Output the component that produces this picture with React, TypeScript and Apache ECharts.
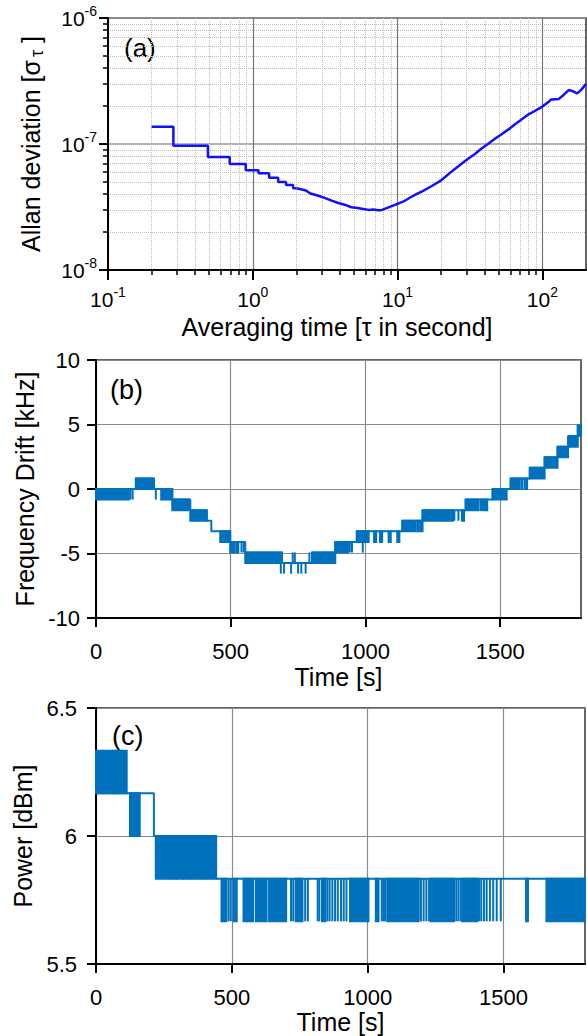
import React, { useEffect, useRef } from 'react';
import * as echarts from 'echarts';

const FONT = "'Liberation Sans', Arial, Helvetica, sans-serif";

// ---------- Panel (a): Allan deviation ----------
const allanStepTau = [0.2, 0.4, 0.6, 0.8, 1.0, 1.2, 1.4, 1.6, 1.8, 2.0];
const allanStepDev = [1.37e-7, 9.7e-8, 7.9e-8, 6.93e-8, 6.2e-8, 5.85e-8, 5.4e-8, 5.0e-8, 4.73e-8, 4.45e-8];
const allanTau = [2.0, 2.3, 2.5, 2.8, 3.1, 3.5, 3.9, 4.3, 4.8, 5.3, 5.8, 6.3, 6.8, 7.3, 7.8, 8.3, 9, 10, 11, 12.3, 13.5, 15, 17, 20, 23, 26, 30, 34, 38, 42, 47, 52, 58, 64, 71, 79, 88, 100, 110, 115, 130, 140, 152, 163, 174, 186, 200];
const allanDev = [4.45e-8, 4.3e-8, 4.05e-8, 3.9e-8, 3.75e-8, 3.55e-8, 3.4e-8, 3.3e-8, 3.15e-8, 3.1e-8, 3.05e-8, 3.0e-8, 3.02e-8, 2.98e-8, 3.0e-8, 3.08e-8, 3.2e-8, 3.35e-8, 3.5e-8, 3.78e-8, 4.0e-8, 4.25e-8, 4.6e-8, 5.15e-8, 5.9e-8, 6.6e-8, 7.5e-8, 8.3e-8, 9.2e-8, 1.0e-7, 1.1e-7, 1.19e-7, 1.3e-7, 1.42e-7, 1.55e-7, 1.7e-7, 1.82e-7, 1.98e-7, 2.15e-7, 2.26e-7, 2.28e-7, 2.45e-7, 2.68e-7, 2.62e-7, 2.52e-7, 2.7e-7, 3.0e-7];
const allanMajorX = [0.1, 1, 10, 100];
const allanMinorX = [0.2, 0.3, 0.4, 0.5, 0.6, 0.7, 0.8, 0.9, 2, 3, 4, 5, 6, 7, 8, 9, 20, 30, 40, 50, 60, 70, 80, 90];
const allanMajorY = [1e-8, 1e-7, 1e-6];
const allanMinorY = [2e-8, 3e-8, 4e-8, 5e-8, 6e-8, 7e-8, 8e-8, 9e-8, 2e-7, 3e-7, 4e-7, 5e-7, 6e-7, 7e-7, 8e-7, 9e-7];

// ---------- Panel (b): Frequency drift [kHz] ----------
const timeTicks = [0, 500, 1000, 1500];
// step path [time s, level kHz]
const driftPath = [
  [0, 0], [148, 0.82], [215, 0], [283, -0.82], [350, -1.64], [411, -2.46], [428, -3.28],
  [498, -4.1], [554, -4.92], [690, -5.74], [802, -4.92], [888, -4.1], [968, -3.28],
  [1137, -2.46], [1212, -1.64], [1372, -0.82], [1472, 0], [1539, 0.82], [1610, 1.64],
  [1665, 2.46], [1713, 3.28], [1752, 4.1], [1788, 4.92], [1800, 4.92],
];
// flicker blocks [t start, t end, low level, high level]
const driftBlocks = [
  [0, 122, -0.82, 0], [148, 215, 0, 0.82], [242, 283, -0.82, 0],
  [283, 345, -1.64, -0.82], [350, 372, -2.46, -1.64], [378, 411, -2.46, -1.64],
  [461, 498, -4.1, -3.28], [498, 512, -4.92, -4.1], [520, 528, -4.92, -4.1],
  [554, 690, -5.74, -4.92], [802, 855, -5.74, -4.92], [861, 866, -5.74, -4.92], [872, 888, -5.74, -4.92],
  [888, 935, -4.92, -4.1], [968, 1012, -4.1, -3.28],
  [1032, 1040, -4.1, -3.28], [1054, 1062, -4.1, -3.28], [1086, 1094, -4.1, -3.28], [1118, 1126, -4.1, -3.28],
  [1137, 1185, -3.28, -2.46], [1192, 1198, -3.28, -2.46], [1204, 1212, -3.28, -2.46],
  [1212, 1300, -2.46, -1.64], [1305, 1312, -2.46, -1.64], [1318, 1325, -2.46, -1.64], [1358, 1366, -2.46, -1.64],
  [1372, 1420, -1.64, -0.82], [1428, 1435, -1.64, -0.82], [1440, 1452, -1.64, -0.82],
  [1472, 1524, -0.82, 0], [1539, 1560, 0, 0.82], [1565, 1570, 0, 0.82], [1578, 1583, 0, 0.82], [1592, 1600, 0, 0.82],
  [1610, 1665, 0.82, 1.64], [1665, 1713, 1.64, 2.46], [1713, 1752, 2.46, 3.28],
  [1755, 1788, 3.28, 4.1], [1788, 1800, 4.1, 4.92],
];
// single spikes [t, from, to]
const driftSpikes = [
  [128, 0, -0.82], [136, 0, -0.82], [222, 0, -0.82],
  [540, -4.1, -4.92], [548, -4.1, -4.92],
  [686, -5.74, -6.56], [698, -5.74, -6.56], [724, -5.74, -6.56], [750, -5.74, -6.56],
  [762, -5.74, -6.56], [778, -5.74, -6.56], [730, -5.74, -4.92], [738, -5.74, -4.92], [792, -5.74, -4.92],
  [942, -4.1, -4.92], [950, -4.1, -4.92], [990, -4.1, -4.92],
  [1330, -1.64, -2.46], [1345, -1.64, -2.46],
];

// ---------- Panel (c): Power [dBm] ----------
const powerPath = [[0, 6.1667], [213, 6.0], [442, 5.8333], [1800, 5.8333]];
const powerBlocks = [
  [0, 61, 6.1667, 6.3333], [65, 71, 6.1667, 6.3333], [76, 113, 6.1667, 6.3333],
  [125, 137, 6.0, 6.1667], [141, 145, 6.0, 6.1667], [150, 161, 6.0, 6.1667],
  [220, 270, 5.8333, 6.0], [274, 293, 5.8333, 6.0], [297, 320, 5.8333, 6.0], [324, 348, 5.8333, 6.0],
  [352, 381, 5.8333, 6.0], [385, 394, 5.8333, 6.0], [398, 442, 5.8333, 6.0],
  [462, 480, 5.6667, 5.8333], [506, 518, 5.6667, 5.8333], [543, 578, 5.6667, 5.8333],
  [588, 628, 5.6667, 5.8333], [637, 700, 5.6667, 5.8333], [735, 760, 5.6667, 5.8333],
  [832, 845, 5.6667, 5.8333], [935, 1003, 5.6667, 5.8333], [1030, 1040, 5.6667, 5.8333],
  [1072, 1188, 5.6667, 5.8333], [1232, 1318, 5.6667, 5.8333], [1348, 1403, 5.6667, 5.8333],
  [1583, 1590, 5.6667, 5.8333], [1658, 1800, 5.6667, 5.8333],
];
const powerSpikes = [
  [488, 5.8333, 5.6667], [496, 5.8333, 5.6667], [718, 5.8333, 5.6667], [726, 5.8333, 5.6667],
  [770, 5.8333, 5.6667], [780, 5.8333, 5.6667], [816, 5.8333, 5.6667], [822, 5.8333, 5.6667],
  [852, 5.8333, 5.6667], [860, 5.8333, 5.6667], [870, 5.8333, 5.6667], [880, 5.8333, 5.6667],
  [890, 5.8333, 5.6667], [902, 5.8333, 5.6667], [912, 5.8333, 5.6667], [922, 5.8333, 5.6667],
  [1052, 5.8333, 5.6667], [1058, 5.8333, 5.6667], [1064, 5.8333, 5.6667], [1075, 5.8333, 5.6667],
  [1196, 5.8333, 5.6667], [1206, 5.8333, 5.6667], [1216, 5.8333, 5.6667], [1226, 5.8333, 5.6667],
  [1326, 5.8333, 5.6667], [1334, 5.8333, 5.6667], [1342, 5.8333, 5.6667],
  [1410, 5.8333, 5.6667], [1418, 5.8333, 5.6667], [1428, 5.8333, 5.6667], [1438, 5.8333, 5.6667],
  [1450, 5.8333, 5.6667], [1462, 5.8333, 5.6667], [1475, 5.8333, 5.6667], [1490, 5.8333, 5.6667],
  [155, 6.1667, 6.0],
];

const BLUE_A = '#1010ff';
const BLUE = '#0072BD';

const pow10 = (v: number) => {
  const e = Math.round(Math.log10(v));
  return '{b|10}{s|' + e + '}';
};
const powRich = {
  b: { fontSize: 21, fontFamily: FONT, color: '#000', lineHeight: 22, verticalAlign: 'bottom' },
  s: { fontSize: 14, fontFamily: FONT, color: '#000', lineHeight: 14, verticalAlign: 'bottom', padding: [0, 0, 11, 0] },
};

const nameStyle = { fontSize: 25, fontFamily: FONT, color: '#000' };
const tickLabelStyle = { fontSize: 22, fontFamily: FONT, color: '#000' };
const plainNum = (v: number) => String(v);

function blockRender(color: string) {
  return (params: any, api: any) => {
    const p1 = api.coord([api.value(0), api.value(3)]);
    const p2 = api.coord([api.value(1), api.value(2)]);
    return {
      type: 'rect',
      shape: { x: p1[0], y: p1[1], width: p2[0] - p1[0], height: p2[1] - p1[1] },
      style: { fill: color, stroke: color, lineWidth: 2 },
    };
  };
}
function spikeRender(color: string) {
  return (params: any, api: any) => {
    const p1 = api.coord([api.value(0), api.value(1)]);
    const p2 = api.coord([api.value(0), api.value(2)]);
    return {
      type: 'line',
      shape: { x1: p1[0], y1: p1[1], x2: p2[0], y2: p2[1] },
      style: { stroke: color, lineWidth: 2 },
    };
  };
}

function linearX(gridIndex: number, gapName: number) {
  return {
    gridIndex,
    type: 'value',
    min: 0,
    max: 1800,
    axisLine: { show: true, onZero: false, lineStyle: { color: '#000', width: 2 } },
    axisTick: { show: true, customValues: timeTicks, length: 9, lineStyle: { color: '#000', width: 2 } },
    axisLabel: { customValues: timeTicks, margin: 22, formatter: plainNum, ...tickLabelStyle },
    splitLine: { show: true, lineStyle: { color: '#8a8a8a', width: 1.2 } },
    name: 'Time [s]',
    nameLocation: 'middle',
    nameGap: gapName,
    nameTextStyle: nameStyle,
  };
}

export default function App() {
  const ref = useRef<HTMLDivElement>(null);
  useEffect(() => {
    document.body.style.margin = '0';
    if (!ref.current) return;
    const chart = echarts.init(ref.current, undefined, { renderer: 'svg' });
    const gridCommon = { show: true, borderColor: '#333', borderWidth: 1.5, containLabel: false, outerBoundsMode: 'none' };
    const option: any = {
      animation: false,
      backgroundColor: '#fff',
      grid: [
        { left: 108, top: 18, width: 478, height: 252, ...gridCommon },
        { left: 96, top: 360, width: 485, height: 258, ...gridCommon },
        { left: 96, top: 708, width: 489, height: 256, ...gridCommon },
      ],
      xAxis: [
        {
          gridIndex: 0, type: 'log', logBase: 10, min: 0.1, max: 200, position: 'bottom',
          axisLine: { show: true, onZero: false, lineStyle: { color: '#000', width: 2 } },
          axisTick: { show: true, customValues: allanMajorX, length: 10, lineStyle: { color: '#000', width: 2 } },
          axisLabel: { customValues: allanMajorX, formatter: pow10, rich: powRich, margin: 18 },
          splitLine: { show: true, lineStyle: { color: '#777', width: 1.2 } },
          name: 'Averaging time [τ in second]', nameLocation: 'middle', nameGap: 44,
          nameTextStyle: { ...nameStyle, padding: [0, 20, 0, 0] },
        },
        {
          gridIndex: 0, type: 'log', logBase: 10, min: 0.1, max: 200, position: 'bottom',
          axisLine: { show: false },
          axisTick: { show: true, customValues: allanMinorX, length: 5, lineStyle: { color: '#000', width: 1.5 } },
          axisLabel: { show: false },
          splitLine: { show: true, lineStyle: { color: '#bdbdbd', width: 1, type: 'dotted' } },
        },
        linearX(1, 46),
        linearX(2, 45),
      ],
      yAxis: [
        {
          gridIndex: 0, type: 'log', logBase: 10, min: 1e-8, max: 1e-6, position: 'left',
          axisLine: { show: true, onZero: false, lineStyle: { color: '#000', width: 2 } },
          axisTick: { show: true, customValues: allanMajorY, length: 9, lineStyle: { color: '#000', width: 2 } },
          axisLabel: { customValues: allanMajorY, formatter: pow10, rich: powRich, margin: 11 },
          splitLine: { show: true, lineStyle: { color: '#999', width: 1.5 } },
          name: 'Allan deviation [σ{sub|τ} ]', nameLocation: 'middle', nameGap: 62,
          nameTextStyle: {
            ...nameStyle,
            rich: {
              sub: { fontSize: 18, fontFamily: FONT, color: '#000', verticalAlign: 'top', padding: [12, 0, 0, 3] },
            },
          },
        },
        {
          gridIndex: 0, type: 'log', logBase: 10, min: 1e-8, max: 1e-6, position: 'left',
          axisLine: { show: false },
          axisTick: { show: true, customValues: allanMinorY, length: 5, lineStyle: { color: '#000', width: 1.5 } },
          axisLabel: { show: false },
          splitLine: { show: true, lineStyle: { color: '#bdbdbd', width: 1, type: 'dotted' } },
        },
        {
          gridIndex: 1, type: 'value', min: -10, max: 10, interval: 5,
          axisLine: { show: true, onZero: false, lineStyle: { color: '#000', width: 2 } },
          axisTick: { show: true, length: 9, lineStyle: { color: '#000', width: 2 } },
          axisLabel: { margin: 16, formatter: plainNum, ...tickLabelStyle },
          splitLine: { show: true, lineStyle: { color: '#8a8a8a', width: 1.2 } },
          name: 'Frequency Drift [kHz]', nameLocation: 'middle', nameGap: 56, nameTextStyle: nameStyle,
        },
        {
          gridIndex: 2, type: 'value', min: 5.5, max: 6.5, interval: 0.5,
          axisLine: { show: true, onZero: false, lineStyle: { color: '#000', width: 2 } },
          axisTick: { show: true, length: 9, lineStyle: { color: '#000', width: 2 } },
          axisLabel: { margin: 19, formatter: plainNum, ...tickLabelStyle },
          splitLine: { show: true, lineStyle: { color: '#8a8a8a', width: 1.2 } },
          name: 'Power [dBm]', nameLocation: 'middle', nameGap: 56, nameTextStyle: nameStyle,
        },
      ],
      series: [
        {
          type: 'line', xAxisIndex: 0, yAxisIndex: 0, step: 'middle', showSymbol: false,
          data: allanStepTau.map((t, i) => [t, allanStepDev[i]]),
          lineStyle: { color: BLUE_A, width: 2.5 }, itemStyle: { color: BLUE_A }, z: 5,
        },
        {
          type: 'line', xAxisIndex: 0, yAxisIndex: 0, showSymbol: false,
          data: allanTau.map((t, i) => [t, allanDev[i]]),
          lineStyle: { color: BLUE_A, width: 2.5 }, itemStyle: { color: BLUE_A }, z: 5,
        },
        {
          type: 'line', xAxisIndex: 2, yAxisIndex: 2, step: 'end', showSymbol: false,
          data: driftPath, lineStyle: { color: BLUE, width: 2 }, itemStyle: { color: BLUE }, z: 5,
        },
        {
          type: 'custom', xAxisIndex: 2, yAxisIndex: 2, renderItem: blockRender(BLUE),
          encode: { x: [0, 1], y: [2, 3] }, data: driftBlocks, z: 5,
        },
        {
          type: 'custom', xAxisIndex: 2, yAxisIndex: 2, renderItem: spikeRender(BLUE),
          encode: { x: 0, y: [1, 2] }, data: driftSpikes, z: 5,
        },
        {
          type: 'line', xAxisIndex: 3, yAxisIndex: 3, step: 'end', showSymbol: false,
          data: powerPath, lineStyle: { color: BLUE, width: 2 }, itemStyle: { color: BLUE }, z: 5,
        },
        {
          type: 'custom', xAxisIndex: 3, yAxisIndex: 3, renderItem: blockRender(BLUE),
          encode: { x: [0, 1], y: [2, 3] }, data: powerBlocks, z: 5,
        },
        {
          type: 'custom', xAxisIndex: 3, yAxisIndex: 3, renderItem: spikeRender(BLUE),
          encode: { x: 0, y: [1, 2] }, data: powerSpikes, z: 5,
        },
      ],
      graphic: [
        { type: 'text', left: 124, top: 35, style: { text: '(a)', fontSize: 26, fontFamily: FONT, fill: '#000' } },
        { type: 'text', left: 110, top: 376, style: { text: '(b)', fontSize: 27, fontFamily: FONT, fill: '#000' } },
        { type: 'text', left: 112, top: 722, style: { text: '(c)', fontSize: 27, fontFamily: FONT, fill: '#000' } },
      ],
    };
    chart.setOption(option);
    return () => chart.dispose();
  }, []);
  return <div ref={ref} style={{ width: 587, height: 1036 }} />;
}
